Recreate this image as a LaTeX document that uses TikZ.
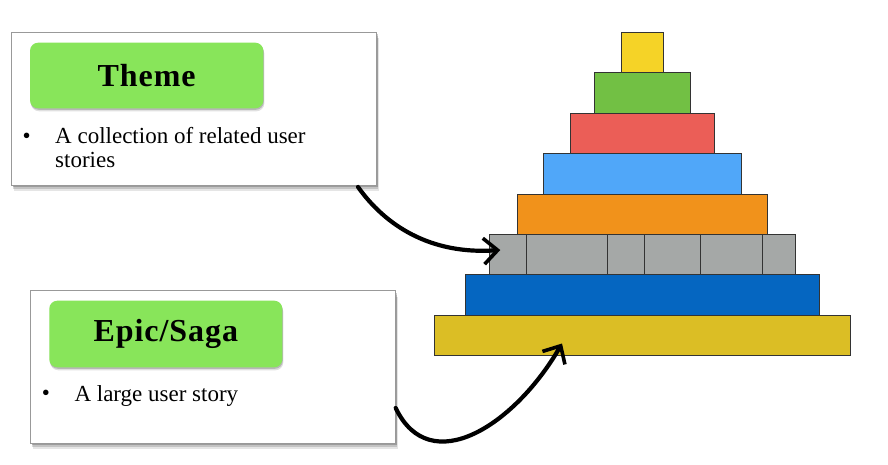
\documentclass[tikz,border=0pt]{standalone}
\usepackage{fontspec}
\setmainfont{Liberation Serif}
\usetikzlibrary{shadows,arrows.meta}
\definecolor{tgreen}{HTML}{88E55A}
\definecolor{lyellow}{HTML}{F5D327}
\definecolor{lgreen}{HTML}{72C044}
\definecolor{lred}{HTML}{EB5E57}
\definecolor{lblue}{HTML}{50A7F9}
\definecolor{lorange}{HTML}{F1921B}
\definecolor{lgray}{HTML}{A5A8A7}
\definecolor{ldblue}{HTML}{0566C1}
\definecolor{lgold}{HTML}{DBBE25}
\tikzset{
  card/.style={draw=black!40, line width=0.9pt, fill=white, inner sep=0pt, outer sep=0pt,
    drop shadow={shadow xshift=2pt, shadow yshift=-6pt, fill=black, opacity=0.10},
    drop shadow={shadow xshift=1.5pt, shadow yshift=-4pt, fill=black, opacity=0.15},
    drop shadow={shadow xshift=1pt, shadow yshift=-2pt, fill=black, opacity=0.2}},
  titlebox/.style={fill=tgreen, rounded corners=8pt, inner sep=0pt, outer sep=0pt,
    font=\fontsize{32}{32}\selectfont\bfseries\addfontfeature{LetterSpace=3},
    drop shadow={shadow xshift=1pt, shadow yshift=-3pt, fill=black, opacity=0.12},
    drop shadow={shadow xshift=0.5pt, shadow yshift=-1.5pt, fill=black, opacity=0.18}},
  bodytext/.style={font=\fontsize{23}{23.4}\selectfont, align=left, inner sep=0pt, anchor=north west},
  bulletdot/.style={font=\fontsize{23}{23.4}\selectfont, inner sep=0pt, anchor=base},
  layer/.style={draw=black!80, line width=0.8pt, minimum height=40.4pt, inner sep=0pt, outer sep=0pt},
  sketch/.style={line width=4.2pt, line cap=round, -{Straight Barb[length=14pt,width=26pt,line width=3.6pt]}}
}
\begin{document}
\begin{tikzpicture}[x=1pt,y=-1pt]
\useasboundingbox (0,0) rectangle (888,464);
% pyramid
\node[layer, fill=lgold,   minimum width=416pt]   (l8) at (642.5,335.3) {};
\node[layer, fill=ldblue,  minimum width=353.3pt] (l7) at (642.5,294.9) {};
\node[layer, fill=lgray,   minimum width=306.4pt] (l6) at (642.5,254.5) {};
\node[layer, fill=lorange, minimum width=250.7pt] (l5) at (642.5,214.1) {};
\node[layer, fill=lblue,   minimum width=198.4pt] (l4) at (642.5,173.7) {};
\node[layer, fill=lred,    minimum width=144.7pt] (l3) at (642.5,133.3) {};
\node[layer, fill=lgreen,  minimum width=96pt]    (l2) at (642.5,92.9) {};
\node[layer, fill=lyellow, minimum width=42.4pt]  (l1) at (642.5,52.5) {};
\foreach \dx in {36.7,117.7,155,211.4,273}
  \draw[draw=black!80, line width=0.8pt] ([xshift=\dx pt]l6.north west) -- ([xshift=\dx pt]l6.south west);
% theme card
\node[card, minimum width=365pt, minimum height=152.7pt] (theme) at (194.2,108.6) {};
\node[titlebox, minimum width=233.3pt, minimum height=65.6pt] (themet) at (146.7,75.5) {Theme};
\node[bodytext] (ttext) at (55,127.5) {A collection of related user\\stories};
\node[bulletdot] (tb) at (26.7,143.3) {\textbullet};
% epic card
\node[card, minimum width=365pt, minimum height=152.6pt] (epic) at (213.2,367) {};
\node[titlebox, minimum width=233pt, minimum height=66.6pt] (epict) at (165.8,334) {Epic/Saga};
\node[bodytext] (etext) at (74.3,385) {A large user story};
\node[bulletdot] (eb) at (46,400.7) {\textbullet};
% arrows
\coordinate (a1s) at ([xshift=-18.7pt,yshift=-2pt]theme.south east);
\coordinate (a1e) at ([xshift=11pt,yshift=4.5pt]l6.west);
\coordinate (a2s) at ([yshift=-41pt]epic.east);
\coordinate (a2e) at ([xshift=127.5pt,yshift=12pt]l8.south west);
\draw[sketch] (a1s) .. controls (385,225) and (430,255) .. (a1e);
\draw[sketch] (a2s) .. controls (430,480) and (515,425) .. (a2e);
\end{tikzpicture}
\end{document}
